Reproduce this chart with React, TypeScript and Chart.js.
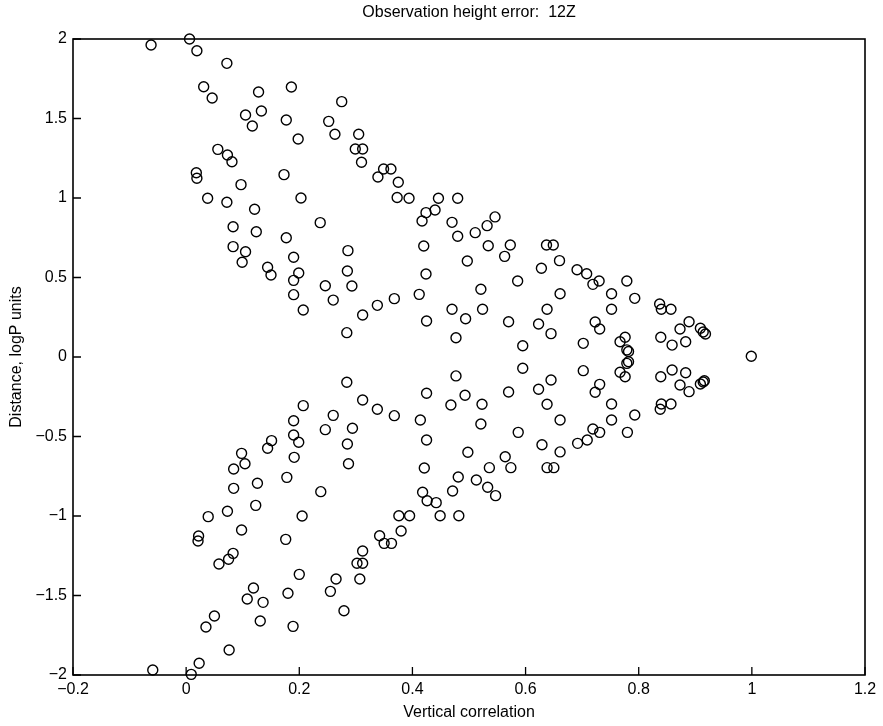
import React, { useEffect, useRef } from "react";
import { Chart, registerables } from "chart.js";

Chart.register(...registerables);

const TITLE = "Observation height error:  12Z";
const X_LABEL = "Vertical correlation";
const Y_LABEL = "Distance, logP units";

const xTicks = [-0.2, 0, 0.2, 0.4, 0.6, 0.8, 1, 1.2];
const yTicks = [-2, -1.5, -1, -0.5, 0, 0.5, 1, 1.5, 2];

const upperX = [
  -0.062, 0.006, 0.019, 0.072, 0.031, 0.046, 0.128, 0.186, 0.275, 0.105,
  0.133, 0.117, 0.177, 0.252, 0.263, 0.198, 0.305, 0.299, 0.312, 0.31,
  0.056, 0.073, 0.081, 0.018, 0.019, 0.173, 0.097, 0.339, 0.349, 0.362,
  0.375, 0.373, 0.038, 0.072, 0.203, 0.121, 0.083, 0.124, 0.237, 0.177,
  0.083, 0.105, 0.099, 0.19, 0.286, 0.144, 0.15, 0.199, 0.19, 0.285,
  0.293, 0.246, 0.19, 0.26, 0.207, 0.368, 0.338, 0.312, 0.284, 0.394,
  0.446, 0.48, 0.424, 0.44, 0.417, 0.47, 0.546, 0.532, 0.511, 0.48,
  0.42, 0.534, 0.573, 0.563, 0.637, 0.649, 0.497, 0.66, 0.628, 0.691,
  0.708, 0.73, 0.719, 0.779, 0.424, 0.586, 0.412, 0.521, 0.661, 0.752,
  0.793, 0.47, 0.524, 0.638, 0.752, 0.494, 0.425, 0.57, 0.623, 0.723,
  0.731, 0.645, 0.477, 0.595, 0.702, 0.776, 0.767, 0.779, 0.782, 0.837,
  0.84, 0.857, 0.889, 0.873, 0.909, 0.914, 0.918, 0.839, 0.859, 0.883,
  0.999,
];
const upperY = [
  1.962, 2.0, 1.926, 1.847, 1.7, 1.629, 1.667, 1.698, 1.606, 1.522,
  1.547, 1.453, 1.491, 1.482, 1.401, 1.371, 1.401, 1.308, 1.308, 1.225,
  1.306, 1.27, 1.228, 1.159, 1.124, 1.147, 1.084, 1.132, 1.182, 1.182,
  1.099, 1.003, 0.998, 0.973, 1.0, 0.929, 0.819, 0.788, 0.845, 0.75,
  0.694, 0.662, 0.596, 0.627, 0.669, 0.564, 0.516, 0.528, 0.482, 0.541,
  0.447, 0.448, 0.392, 0.358, 0.296, 0.367, 0.325, 0.264, 0.153, 0.998,
  0.998, 0.998, 0.908, 0.925, 0.855, 0.847, 0.881, 0.826, 0.782, 0.759,
  0.698, 0.7, 0.704, 0.633, 0.704, 0.704, 0.604, 0.606, 0.558, 0.549,
  0.524, 0.478, 0.457, 0.478, 0.522, 0.478, 0.394, 0.426, 0.398, 0.398,
  0.369, 0.3, 0.3, 0.3, 0.3, 0.241, 0.226, 0.222, 0.208, 0.22,
  0.176, 0.147, 0.121, 0.071, 0.086, 0.124, 0.096, 0.045, 0.035, 0.333,
  0.3, 0.3, 0.222, 0.176, 0.181, 0.157, 0.145, 0.124, 0.075, 0.096,
  0.005,
];

const lowerX = [
  -0.059, 0.009, 0.023, 0.076, 0.035, 0.05, 0.131, 0.189, 0.279, 0.108,
  0.136, 0.119, 0.18, 0.255, 0.265, 0.2, 0.307, 0.302, 0.312, 0.312,
  0.058, 0.075, 0.083, 0.021, 0.022, 0.176, 0.098, 0.342, 0.35, 0.363,
  0.38, 0.376, 0.039, 0.073, 0.205, 0.123, 0.084, 0.126, 0.238, 0.178,
  0.084, 0.104, 0.098, 0.191, 0.287, 0.144, 0.151, 0.199, 0.19, 0.285,
  0.294, 0.246, 0.19, 0.26, 0.207, 0.368, 0.338, 0.312, 0.284, 0.395,
  0.449, 0.482, 0.426, 0.442, 0.418, 0.471, 0.547, 0.533, 0.513, 0.481,
  0.421, 0.536, 0.574, 0.564, 0.638, 0.65, 0.498, 0.661, 0.629, 0.692,
  0.709, 0.731, 0.719, 0.78, 0.425, 0.587, 0.414, 0.521, 0.661, 0.752,
  0.793, 0.468, 0.523, 0.638, 0.752, 0.493, 0.425, 0.57, 0.623, 0.723,
  0.731, 0.645, 0.477, 0.595, 0.702, 0.776, 0.767, 0.782, 0.779, 0.838,
  0.84, 0.857, 0.889, 0.873, 0.909, 0.914, 0.916, 0.839, 0.859, 0.883,
];
const lowerY = [
  -1.969, -1.996, -1.926, -1.843, -1.698, -1.629, -1.66, -1.694, -1.596, -1.522,
  -1.543, -1.453, -1.486, -1.474, -1.396, -1.367, -1.396, -1.297, -1.297, -1.22,
  -1.302, -1.272, -1.235, -1.157, -1.126, -1.147, -1.088, -1.124, -1.172, -1.172,
  -1.094, -0.998, -1.004, -0.97, -1.0, -0.933, -0.826, -0.794, -0.847, -0.757,
  -0.704, -0.671, -0.606, -0.631, -0.671, -0.574, -0.526, -0.536, -0.491, -0.547,
  -0.448, -0.457, -0.401, -0.367, -0.306, -0.369, -0.329, -0.27, -0.159, -0.998,
  -0.998, -0.998, -0.904, -0.916, -0.851, -0.843, -0.872, -0.819, -0.774, -0.755,
  -0.698, -0.696, -0.696, -0.627, -0.696, -0.696, -0.599, -0.597, -0.552, -0.543,
  -0.522, -0.474, -0.453, -0.474, -0.522, -0.474, -0.396, -0.421, -0.396, -0.396,
  -0.365, -0.302, -0.297, -0.297, -0.296, -0.241, -0.228, -0.22, -0.203, -0.222,
  -0.172, -0.145, -0.119, -0.071, -0.086, -0.124, -0.096, -0.03, -0.04, -0.329,
  -0.296, -0.296, -0.218, -0.176, -0.17, -0.157, -0.149, -0.124, -0.082, -0.099,
];

const FONT = "'Liberation Sans', Arial, Helvetica, sans-serif";

const toPoints = (xs: number[], ys: number[]) => xs.map((x, i) => ({ x, y: ys[i] }));
const fmt = (v: number) => String(Math.round(v * 10) / 10).replace("-", "\u2212");

const framePlugin = {
  id: "frameTicks",
  afterDraw(chart: any) {
    const { ctx, chartArea: a, scales } = chart;
    ctx.save();
    ctx.strokeStyle = "#000";
    ctx.lineWidth = 1.6;
    ctx.strokeRect(a.left, a.top, a.right - a.left, a.bottom - a.top);
    ctx.lineWidth = 1.3;
    ctx.beginPath();
    xTicks.forEach((v) => {
      const px = scales.x.getPixelForValue(v);
      ctx.moveTo(px, a.bottom);
      ctx.lineTo(px, a.bottom - 8);
    });
    yTicks.forEach((v) => {
      const py = scales.y.getPixelForValue(v);
      ctx.moveTo(a.left, py);
      ctx.lineTo(a.left + 8, py);
    });
    ctx.stroke();
    ctx.restore();
  },
};

export default function App() {
  const ref = useRef<HTMLCanvasElement | null>(null);

  useEffect(() => {
    if (!ref.current) return;
    const ds = {
      pointStyle: "circle",
      pointRadius: 5,
      pointBorderWidth: 1.4,
      pointBackgroundColor: "rgba(0,0,0,0)",
      pointBorderColor: "#000",
      showLine: false,
      clip: false,
    };
    const chart = new Chart(ref.current, {
      type: "scatter",
      data: {
        datasets: [
          { ...ds, label: "upper", data: toPoints(upperX, upperY) } as any,
          { ...ds, label: "lower", data: toPoints(lowerX, lowerY) } as any,
        ],
      },
      options: {
        animation: false,
        responsive: false,
        layout: { padding: { left: 0, right: 18, top: 0, bottom: 0 } },
        plugins: {
          legend: { display: false },
          tooltip: { enabled: false },
          title: {
            display: true,
            text: TITLE,
            fullSize: false,
            color: "#000",
            font: { family: FONT, size: 16, weight: "normal" },
            padding: { top: 3, bottom: 16.8 },
          },
        },
        scales: {
          x: {
            type: "linear",
            min: -0.2,
            max: 1.2,
            afterBuildTicks: (s: any) => {
              s.ticks = xTicks.map((v) => ({ value: v }));
            },
            afterFit: (s: any) => {
              s.height = 51;
            },
            grid: { display: false, drawTicks: false },
            border: { display: false },
            ticks: {
              color: "#000",
              font: { family: FONT, size: 16 },
              padding: 5,
              maxRotation: 0,
              autoSkip: false,
              callback: (v: any) => fmt(Number(v)),
            },
            title: {
              display: true,
              text: X_LABEL,
              color: "#000",
              font: { family: FONT, size: 16 },
              padding: { top: 0, bottom: 4 },
            },
          },
          y: {
            type: "linear",
            min: -2,
            max: 2,
            afterBuildTicks: (s: any) => {
              s.ticks = yTicks.map((v) => ({ value: v }));
            },
            afterFit: (s: any) => {
              s.width = 73;
            },
            grid: { display: false, drawTicks: false },
            border: { display: false },
            ticks: {
              color: "#000",
              font: { family: FONT, size: 16 },
              padding: 6,
              autoSkip: false,
              callback: (v: any) => fmt(Number(v)),
            },
            title: {
              display: true,
              text: Y_LABEL,
              color: "#000",
              font: { family: FONT, size: 16 },
              padding: { top: 7, bottom: 0 },
            },
          },
        },
      } as any,
      plugins: [framePlugin],
    });
    return () => chart.destroy();
  }, []);

  return (
    <div style={{ position: "fixed", left: 0, top: 0, width: 883, height: 726, background: "#fff" }}>
      <canvas ref={ref} width={883} height={726} style={{ display: "block" }} />
    </div>
  );
}
